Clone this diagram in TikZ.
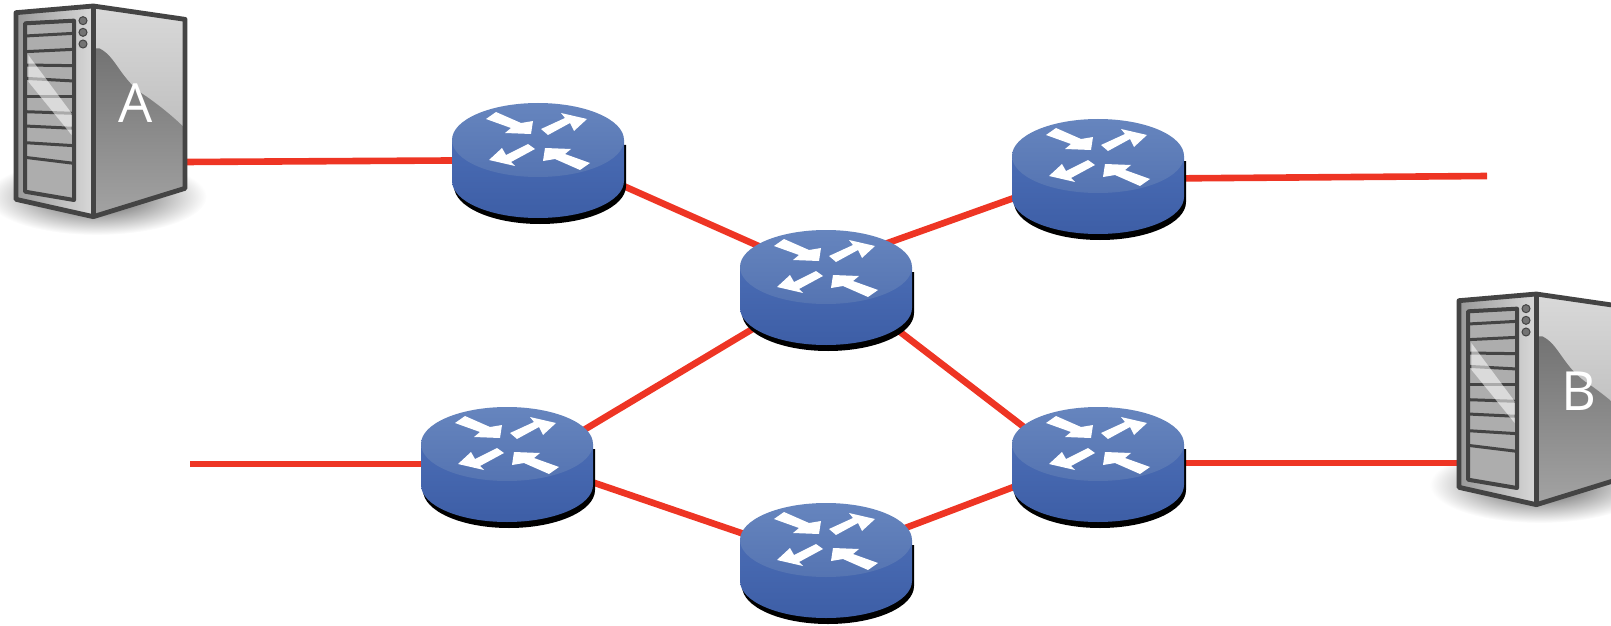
\documentclass[tikz,border=0pt]{standalone}
\usepackage{fontspec}
\setmainfont{Open Sans}
\usetikzlibrary{calc}
\definecolor{linkred}{HTML}{EE3524}
\definecolor{toplight}{HTML}{6685BE}
\definecolor{topdark}{HTML}{5574B2}
\definecolor{sidelight}{HTML}{4A6CB4}
\definecolor{sidedark}{HTML}{3D5EA6}
\definecolor{frameg}{HTML}{444444}
\tikzset{
  anchorbox/.style={inner sep=0pt,minimum size=1pt,outer sep=0pt},
  link/.style={draw=linkred,line width=3.3pt},
  serverlabel/.style={text=white,font=\fontsize{27}{27}\selectfont,inner sep=0pt},
  routerpic/.pic={
    \fill[black] (-84,5) -- (-84,46) arc[start angle=180,end angle=0,x radius=86,y radius=38] -- (88,5) -- cycle;
    \shade[top color=sidelight,bottom color=sidedark]
      (-86,0) -- (-86,41) arc[start angle=180,end angle=0,x radius=86,y radius=37] -- (86,0) -- cycle;
    \shade[top color=toplight,bottom color=topdark] (0,0) ellipse[x radius=86,y radius=37];
    \fill[white] (-52,-21) -- (-42,-28) -- (-17,-17) -- (-5,-19) -- (-7,-6) -- (-33,-7) -- (-27,-12) -- cycle;
    \fill[white] (3,-11) -- (10,-5) -- (32,-17) -- (36,-9) -- (49,-21) -- (23,-27) -- (27,-22) -- cycle;
    \fill[white] (52,23) -- (42,30) -- (17,19) -- (5,21) -- (7,8) -- (33,9) -- (27,14) -- cycle;
    \fill[white] (-3,9) -- (-10,4) -- (-32,15) -- (-36,8) -- (-49,20) -- (-23,26) -- (-27,22) -- cycle;
  },
  servershadow/.pic={
    \begin{scope}[x=0.16667pt,y=-0.16667pt]
    \shade[inner color=black!70,outer color=white] (290,590) ellipse[x radius=330,y radius=115];
    \end{scope}
  },
  serverpic/.pic={
    \begin{scope}[x=0.16667pt,y=-0.16667pt]
    % side face
    \shade[top color=black!15,bottom color=black!32] (280,22) -- (555,58) -- (555,565) -- (280,650) -- cycle;
    \shade[top color=black!55,bottom color=black!36] (298,145) .. controls (350,170) and (360,240) .. (440,290) .. controls (490,325) and (530,360) .. (555,385) -- (555,565) -- (280,650) -- (280,145) -- cycle;
    % front face
    \shade[left color=black!40,right color=black!15] (48,38) -- (280,18) -- (280,650) -- (48,598) -- cycle;
    \fill[black!32] (75,70) -- (222,62) -- (222,600) -- (75,575) -- cycle;
    % slots
    \foreach \l/\r in {70/62,108/100,155/148,195/197,235/243,290/290,335/340,378/385,428/437,472/490}
      \draw[frameg,line width=1.5pt] (75,\l) -- (222,\r);
    % gloss
    \fill[white,opacity=.55] (85,165) -- (215,340) -- (215,405) -- (85,245) -- cycle;
    % frame
    \draw[frameg,line width=2pt,line join=round] (75,70) -- (222,62) -- (222,600) -- (75,575) -- cycle;
    \draw[frameg,line width=2.4pt,line join=round] (48,38) -- (280,18) -- (555,58) -- (555,565) -- (280,650) -- (48,598) -- cycle;
    \draw[frameg,line width=2.4pt] (280,18) -- (280,650);
    \foreach \yy in {62,97,132}
      \fill[black!55,draw=frameg,line width=.5pt] (249,\yy) circle[radius=12];
    \end{scope}
  },
}
\begin{document}
\begin{tikzpicture}[x=0.5pt,y=-0.5pt]
\useasboundingbox (0,0) rectangle (1611,626);
\clip (0,0) rectangle (1611,626);
% anchor nodes
\node[anchorbox] (r1) at (538,140) {};
\node[anchorbox] (r2) at (1098,156) {};
\node[anchorbox] (r3) at (826,267) {};
\node[anchorbox] (r4) at (507,444) {};
\node[anchorbox] (r5) at (1098,444) {};
\node[anchorbox] (r6) at (826,540) {};
\node[anchorbox,minimum width=85pt,minimum height=105pt] (srvA) at (100,110) {};
\node[anchorbox,minimum width=85pt,minimum height=105pt] (srvB) at (1543,398) {};
\coordinate (endtop) at (1487,176);
\coordinate (endleft) at (190,464);
% shadows lie under the links
\pic at ([shift={(-100,-110)}]srvA.center) {servershadow};
\pic at ([shift={(-100,-110)}]srvB.center) {servershadow};
% links
\draw[link] ([shift={(85,52)}]srvA.center) -- ([shift={(0,20)}]r1.center);
\draw[link] ([shift={(0,8)}]r1.center) -- ([shift={(0,9)}]r3.center);
\draw[link] ([shift={(0,-2)}]r3.center) -- ([shift={(0,12)}]r2.center);
\draw[link] ([shift={(0,23)}]r2.center) -- (endtop);
\draw[link] ([shift={(0,18)}]r3.center) -- ([shift={(0,32)}]r4.center);
\draw[link] ([shift={(0,8)}]r3.center) -- ([shift={(0,40)}]r5.center);
\draw[link] (endleft) -- ([shift={(0,20)}]r4.center);
\draw[link] ([shift={(0,9)}]r4.center) -- ([shift={(0,22)}]r6.center);
\draw[link] ([shift={(0,18)}]r6.center) -- ([shift={(0,11)}]r5.center);
\draw[link] ([shift={(0,19)}]r5.center) -- ([shift={(-85,65)}]srvB.center);
% devices
\foreach \n in {r1,r2,r3,r4,r5,r6}
  \pic at (\n) {routerpic};
\pic at ([shift={(-100,-110)}]srvA.center) {serverpic};
\pic at ([shift={(-100,-110)}]srvB.center) {serverpic};
\node[serverlabel] (labA) at (136,103) {A};
\node[serverlabel] (labB) at (1579,391) {B};
\end{tikzpicture}
\end{document}
